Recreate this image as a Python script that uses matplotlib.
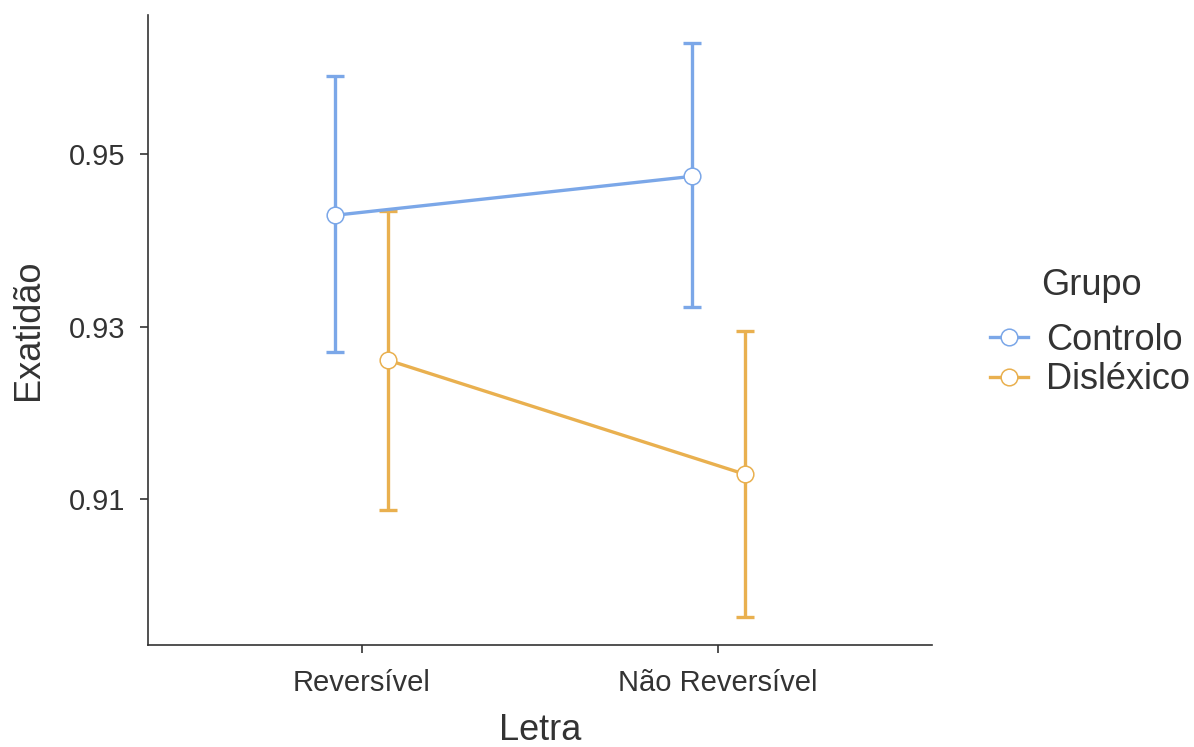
import matplotlib
matplotlib.use("Agg")
import matplotlib.pyplot as plt
import numpy as np
from matplotlib.lines import Line2D

plt.rcParams['font.family'] = ['Liberation Sans', 'DejaVu Sans']

categories = ["Reversível", "Não Reversível"]
groups = ["Controlo", "Disléxico"]
means = {"Controlo": [0.9429, 0.9474], "Disléxico": [0.9261, 0.9129]}
upper = {"Controlo": [0.9590, 0.9628], "Disléxico": [0.9434, 0.9295]}
lower = {"Controlo": [0.9270, 0.9323], "Disléxico": [0.9088, 0.8964]}
colors = {"Controlo": "#7BA7E8", "Disléxico": "#E9B04F"}
yticks = [0.91, 0.93, 0.95]

W, H = 1194, 747
fig = plt.figure(figsize=(W / 100, H / 100), dpi=100)
ax = fig.add_axes([148 / W, 1 - 645 / H, (932 - 148) / W, (645 - 15) / H])

x = np.arange(1, len(categories) + 1)
dodge = {"Controlo": -0.074, "Disléxico": 0.074}
for g in groups:
    xs = x + dodge[g]
    m = np.array(means[g])
    lo = m - np.array(lower[g])
    hi = np.array(upper[g]) - m
    ax.errorbar(xs, m, yerr=[lo, hi], fmt='none', ecolor=colors[g],
                elinewidth=2.4, capsize=6.5, capthick=2.4, zorder=2)
    ax.plot(xs, m, color=colors[g], lw=2.4, zorder=3)
    ax.plot(xs, m, 'o', ms=12, mfc='white', mec=colors[g], mew=1.1, zorder=4)

ax.set_xlim(0.4, 2.6)
ax.set_ylim(0.8931, 0.9661)
ax.set_xticks(x)
ax.set_xticklabels(categories)
ax.set_yticks(yticks)
ax.set_yticklabels([f"{v:.2f}" for v in yticks])

for s in ["top", "right"]:
    ax.spines[s].set_visible(False)
for s in ["left", "bottom"]:
    ax.spines[s].set_color("#333333")
    ax.spines[s].set_linewidth(1.2)
ax.tick_params(axis='both', colors='#333333', length=5.5, width=1.2,
               labelsize=21, labelcolor='#333333')
ax.tick_params(axis='y', pad=11)
ax.tick_params(axis='x', pad=12)

ax.set_xlabel("Letra", fontsize=26, color='#333333', labelpad=11)
ax.set_ylabel("Exatidão", fontsize=26, color='#333333', labelpad=16)

handles = [Line2D([0], [0], color=colors[g], lw=2.4, marker='o', ms=12,
                  mfc='white', mec=colors[g], mew=1.1) for g in groups]
leg = fig.legend(handles, groups, loc='center left',
                 bbox_to_anchor=(990 / W, 1 - 360 / H), frameon=False,
                 fontsize=26, handlelength=1.05,
                 handletextpad=0.5, labelspacing=0.12, borderpad=0,
                 borderaxespad=0)
for t in leg.get_texts():
    t.set_color('#333333')
fig.text(1041 / W, 1 - 285 / H, "Grupo", fontsize=26, color='#333333',
         ha='left', va='center')

fig.savefig("out.png", dpi=100, facecolor='white')
